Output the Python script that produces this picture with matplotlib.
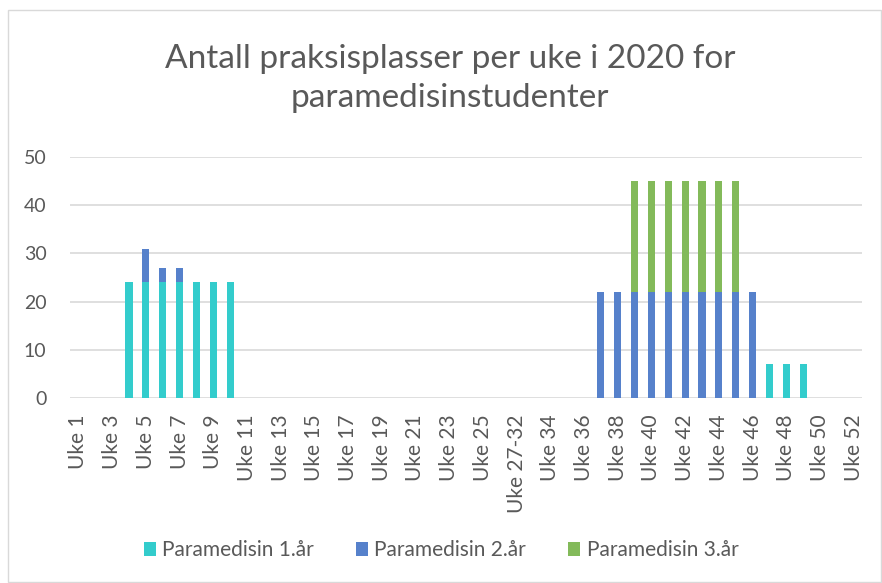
import numpy as np
from matplotlib import pyplot as plt
from matplotlib.patches import Rectangle

weeks = ['Uke %d' % i for i in range(1, 27)] + ['Uke 27-32'] + ['Uke %d' % i for i in range(33, 53)]

year1 = {'Uke 4': 24, 'Uke 5': 24, 'Uke 6': 24, 'Uke 7': 24, 'Uke 8': 24, 'Uke 9': 24, 'Uke 10': 24,
         'Uke 47': 7, 'Uke 48': 7, 'Uke 49': 7}
year2 = {'Uke 5': 7, 'Uke 6': 3, 'Uke 7': 3,
         'Uke 37': 22, 'Uke 38': 22, 'Uke 39': 22, 'Uke 40': 22, 'Uke 41': 22, 'Uke 42': 22,
         'Uke 43': 22, 'Uke 44': 22, 'Uke 45': 22, 'Uke 46': 22}
year3 = {'Uke 39': 23, 'Uke 40': 23, 'Uke 41': 23, 'Uke 42': 23, 'Uke 43': 23, 'Uke 44': 23, 'Uke 45': 23}

series_names = ['Paramedisin 1.år', 'Paramedisin 2.år', 'Paramedisin 3.år']
colors = ['#33CCCC', '#5681CB', '#83BA5A']

plt.rcParams['font.family'] = ['Lato', 'DejaVu Sans']
text_color = '#595959'

fig = plt.figure(figsize=(8.82, 5.83), dpi=100)
fig.patches.append(Rectangle((0.009, 0.002), 0.99, 0.981, transform=fig.transFigure,
                             fill=False, edgecolor='#D9D9D9', linewidth=1))
ax = fig.add_axes([0.0794, 0.317, 0.898, 0.414])

x = np.arange(len(weeks))
bottom = np.zeros(len(weeks))
for name, data, col in zip(series_names, [year1, year2, year3], colors):
    vals = np.array([data.get(w, 0) for w in weeks], dtype=float)
    ax.bar(x, vals, width=0.42, bottom=bottom, color=col, label=name, zorder=3)
    bottom += vals

ax.set_xlim(-0.5, len(weeks) - 0.5)
ax.set_ylim(0, 50)
ax.set_yticks(range(0, 51, 10))
ax.set_xticks(x[::2])
ax.set_xticklabels(weeks[::2], rotation=90, fontsize=15, color=text_color)
ax.tick_params(axis='y', labelsize=14, labelcolor=text_color, length=0, pad=17)
ax.tick_params(axis='x', length=0, pad=12)
ax.grid(axis='y', color='#D9D9D9', linewidth=1.2, zorder=0)
for s in ['top', 'right', 'left', 'bottom']:
    ax.spines[s].set_visible(False)

fig.text(0.51, 0.925, 'Antall praksisplasser per uke i 2020 for\nparamedisinstudenter',
         ha='center', va='top', fontsize=24, color=text_color, linespacing=1.4)

fig.legend(loc='center', bbox_to_anchor=(0.5, 0.056), ncol=3, frameon=False,
           fontsize=15, labelcolor=text_color, handlelength=0.6, handleheight=0.6,
           handletextpad=0.3, columnspacing=2.0)

fig.savefig('out.png', dpi=100)
